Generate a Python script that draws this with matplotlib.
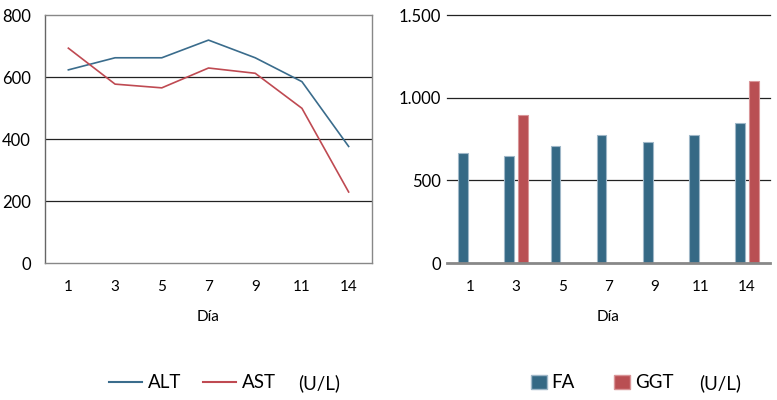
import matplotlib
matplotlib.use("Agg")
import matplotlib.pyplot as plt
import numpy as np
from matplotlib.lines import Line2D
from matplotlib.patches import Patch

plt.rcParams['font.family'] = ['Lato', 'DejaVu Sans']

# Data
dias = ['1', '3', '5', '7', '9', '11', '14']
alt = [623, 662, 662, 719, 662, 585, 376]
ast = [693, 577, 565, 629, 612, 499, 229]
fa = [664, 648, 709, 775, 731, 775, 849]
ggt = [0, 896, 0, 0, 0, 0, 1101]

c_blue = '#3a6c8c'
c_red = '#bf4a52'
c_fa = '#356985'
c_ggt = '#b94f53'

fig = plt.figure(figsize=(7.77, 4.0), dpi=100)

# Left: line chart ALT / AST
ax1 = fig.add_axes([45 / 777, 1 - 263 / 400, 327 / 777, 248 / 400])
x = np.arange(len(dias))
ax1.plot(x, alt, color=c_blue, lw=1.2)
ax1.plot(x, ast, color=c_red, lw=1.2)
ax1.set_xlim(-0.5, len(dias) - 0.5)
ax1.set_ylim(0, 800)
ax1.set_yticks([0, 200, 400, 600, 800])
ax1.set_xticks(x)
ax1.set_xticklabels(dias)
for v in [200, 400, 600]:
    ax1.axhline(v, color='#222222', lw=0.9, zorder=0)
for s in ax1.spines.values():
    s.set_color('#888888')
    s.set_linewidth(1.0)
ax1.spines['left'].set_color('#666666')
ax1.tick_params(length=0)
ax1.tick_params(axis='y', labelsize=12, pad=10)
ax1.tick_params(axis='x', labelsize=11, pad=12)
ax1.set_xlabel('Día', fontsize=11, labelpad=12)

# Right: bar chart FA / GGT
ax2 = fig.add_axes([447 / 777, 1 - 263 / 400, 323 / 777, 248 / 400])
w = 0.21
ax2.bar(x - 0.15, fa, width=w, color=c_fa, edgecolor='#9fb7c8', lw=0.8, zorder=2)
ax2.bar(x + 0.15, ggt, width=w, color=c_ggt, edgecolor='#d99598', lw=0.8, zorder=2)
ax2.set_xlim(-0.5, len(dias) - 0.5)
ax2.set_ylim(0, 1500)
ax2.set_yticks([0, 500, 1000, 1500])
ax2.set_yticklabels(['0', '500', '1.000', '1.500'])
ax2.set_xticks(x)
ax2.set_xticklabels(dias)
for v in [500, 1000, 1500]:
    ax2.axhline(v, color='#222222', lw=0.9, zorder=1, clip_on=False)
for s in ['left', 'right', 'top']:
    ax2.spines[s].set_visible(False)
ax2.spines['bottom'].set_color('#888888')
ax2.spines['bottom'].set_linewidth(2)
ax2.spines['bottom'].set_zorder(3)
ax2.tick_params(length=0)
ax2.tick_params(axis='y', labelsize=12, pad=4)
ax2.tick_params(axis='x', labelsize=11, pad=12)
ax2.set_xlabel('Día', fontsize=11, labelpad=12)

# Legends
ly = 1 - 383 / 400
h1 = [Line2D([], [], color=c_blue, lw=1.5), Line2D([], [], color=c_red, lw=1.5)]
fig.legend(h1, ['ALT', 'AST'], loc='center left', bbox_to_anchor=(109 / 777, ly),
           ncol=2, frameon=False, fontsize=13.5, handlelength=1.75, handletextpad=0.3,
           columnspacing=1.2, borderpad=0, borderaxespad=0)
fig.text(298 / 777, ly, '(U/L)', fontsize=13.5, va='center', ha='left')

h2 = [Patch(facecolor=c_fa, edgecolor='#9fb7c8'), Patch(facecolor=c_ggt, edgecolor='#d99598')]
fig.legend(h2, ['FA', 'GGT'], loc='center left', bbox_to_anchor=(531 / 777, ly),
           ncol=2, frameon=False, fontsize=13.5, handlelength=0.85, handleheight=0.85,
           handletextpad=0.25, columnspacing=2.1, borderpad=0, borderaxespad=0)
fig.text(699 / 777, ly, '(U/L)', fontsize=13.5, va='center', ha='left')

fig.savefig('out.png', dpi=100)
